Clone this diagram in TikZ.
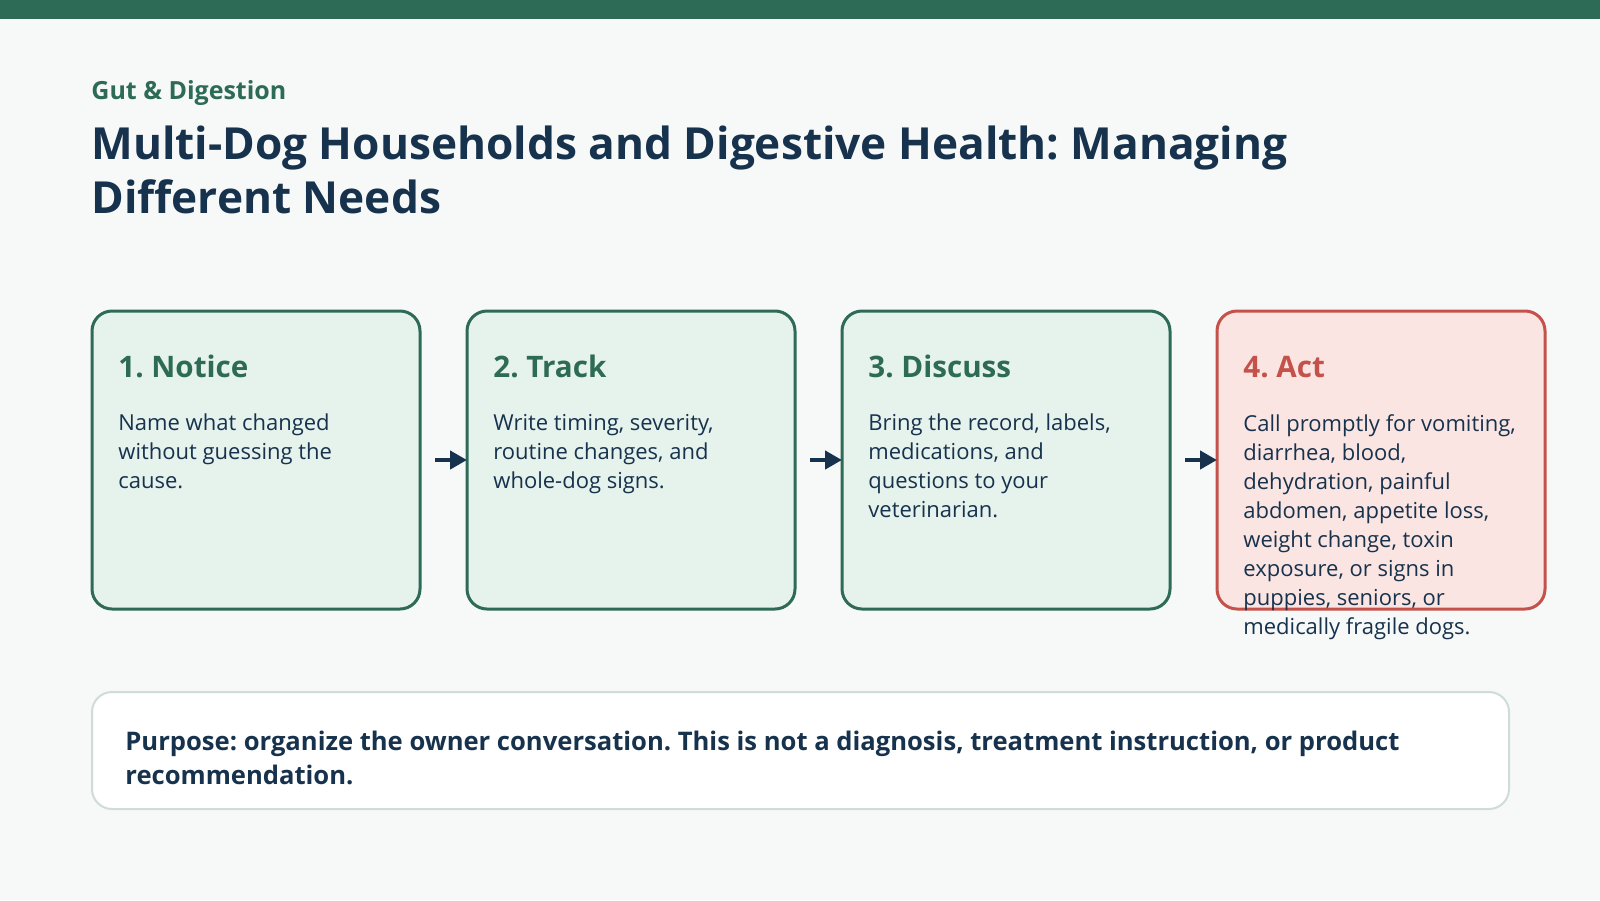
\documentclass[tikz,border=0pt]{standalone}
\usepackage{fontspec}
\setmainfont{Open Sans}
\frenchspacing
\usetikzlibrary{positioning, arrows.meta}
\definecolor{gdgreen}{HTML}{2E6B57}
\definecolor{gdnavy}{HTML}{17324D}
\definecolor{gdbg}{HTML}{F6F9F8}
\definecolor{gdfill}{HTML}{E6F2EC}
\definecolor{gdred}{HTML}{C4524A}
\definecolor{gdredfill}{HTML}{FBE5E2}
\definecolor{gdgrey}{HTML}{CFDCD8}
\tikzset{
  stepbox/.style={draw=gdgreen, fill=gdfill, line width=1.5pt, rounded corners=10pt,
    minimum width=164pt, minimum height=149pt, inner sep=0pt, outer sep=0pt},
  actbox/.style={stepbox, draw=gdred, fill=gdredfill},
  stephead/.style={anchor=base west, inner sep=0pt, text=gdgreen,
    font=\fontsize{14.8}{17}\selectfont\bfseries},
  stepbody/.style={anchor=north west, inner sep=0pt, text=gdnavy, align=left,
    font=\fontsize{11}{14.5}\selectfont},
  flow/.style={draw=gdnavy, line width=2.4pt, -{Triangle[length=8.5pt, width=9pt]}}
}
\begin{document}
\begin{tikzpicture}[x=0.5pt, y=-0.5pt]
  \useasboundingbox (0,0) rectangle (1600,900);
  \fill[gdbg] (0,0) rectangle (1600,900);
  \fill[gdgreen] (0,0) rectangle (1600,19);
  % header
  \node[anchor=base west, inner sep=0pt, text=gdgreen, font=\fontsize{12.5}{15}\selectfont\bfseries]
    (kicker) at (91,99) {Gut \& Digestion};
  \node[anchor=north west, inner sep=0pt, text=gdnavy, align=left, font=\fontsize{22.1}{27}\selectfont\bfseries]
    (title) at (91,126) {Multi-Dog Households and Digestive Health: Managing\\Different Needs};
  % steps
  \node[stepbox, anchor=north west] (notice) at (92,311) {};
  \node[stepbox, right=23.5pt of notice] (track) {};
  \node[stepbox, right=23.5pt of track] (discuss) {};
  \node[actbox, right=23.5pt of discuss] (act) {};
  \node[stephead] (noticehead) at ([xshift=13pt, yshift=-33pt]notice.north west) {1. Notice};
  \node[stephead] (trackhead) at ([xshift=13pt, yshift=-33pt]track.north west) {2. Track};
  \node[stephead] (discusshead) at ([xshift=13pt, yshift=-33pt]discuss.north west) {3. Discuss};
  \node[stephead, text=gdred] (acthead) at ([xshift=13pt, yshift=-33pt]act.north west) {4. Act};
  \node[stepbody] (noticetext) at ([xshift=13pt, yshift=-51.4pt]notice.north west)
    {Name what changed\\without guessing the\\cause.};
  \node[stepbody] (tracktext) at ([xshift=13pt, yshift=-51.4pt]track.north west)
    {Write timing, severity,\\routine changes, and\\whole-dog signs.};
  \node[stepbody] (discusstext) at ([xshift=13pt, yshift=-51.4pt]discuss.north west)
    {Bring the record, labels,\\medications, and\\questions to your\\veterinarian.};
  \node[stepbody] (acttext) at ([xshift=13pt, yshift=-51.4pt]act.north west)
    {Call promptly for vomiting,\\diarrhea, blood,\\dehydration, painful\\abdomen, appetite loss,\\weight change, toxin\\exposure, or signs in\\puppies, seniors, or\\medically fragile dogs.};
  \draw[flow] ([xshift=7.5pt]notice.east) -- (track.west);
  \draw[flow] ([xshift=7.5pt]track.east) -- (discuss.west);
  \draw[flow] ([xshift=7.5pt]discuss.east) -- (act.west);
  % purpose note
  \node[draw=gdgrey, fill=white, line width=1pt, rounded corners=10pt, anchor=north west,
    minimum width=708.5pt, minimum height=58.5pt, inner sep=0pt, outer sep=0pt]
    (purpose) at (92,692) {};
  \node[anchor=north west, inner sep=0pt, text=gdnavy, align=left, font=\fontsize{12.8}{17}\selectfont\bfseries]
    (purposetext) at ([xshift=16.5pt, yshift=-19.4pt]purpose.north west)
    {Purpose: organize the owner conversation. This is not a diagnosis, treatment instruction, or product\\recommendation.};
\end{tikzpicture}
\end{document}
